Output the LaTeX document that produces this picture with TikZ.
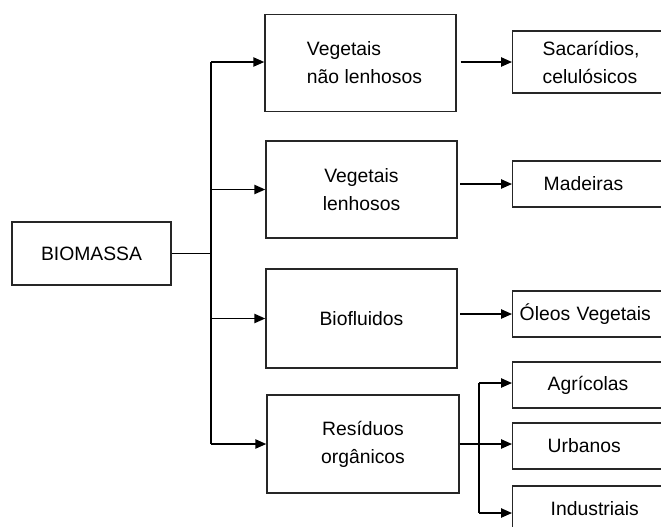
\documentclass[tikz,border=0pt]{standalone}
\usepackage{fontspec}
\setmainfont{Liberation Sans}
\usetikzlibrary{arrows.meta}
\begin{document}
\begin{tikzpicture}[x=0.75pt,y=-0.75pt,
  font=\fontsize{14.5}{21}\selectfont,
  box/.style={draw=black!85, line width=1.1pt, minimum width=143.25pt, minimum height=72.75pt, align=center, inner sep=2pt},
  rbox/.style={draw=black!85, line width=1.1pt, anchor=west, align=left, inner ysep=2pt, minimum height=34.5pt},
  conn/.style={line width=1.1pt},
  arr/.style={line width=1.1pt, -{Triangle[length=8.25pt,width=7pt]}}]
\useasboundingbox (0,0) rectangle (661,526);
\clip (0,0) rectangle (661,526);
% root
\node[draw=black!85, line width=1.1pt, minimum width=119.25pt, minimum height=47.25pt] (bio) at (91.5,253.5) {BIOMASSA};
% middle column
\node[box, align=left] (a1) at (360.5,63) {\hspace*{6pt}Vegetais\\\hspace*{6pt}não lenhosos};
\node[box] (a2) at (361.5,189.5) {Vegetais\\lenhosos};
\node[box, minimum height=74.25pt] (a3) at (361.5,318.5) {Biofluidos};
\node[box, minimum width=144pt, minimum height=73.5pt] (a4) at (363,444) {Resíduos\\orgânicos};
% right column
\node[rbox, inner xsep=22.5pt, text width=127.5pt, minimum height=46.5pt] (r1) at (512,62) {Sacarídios,\\celulósicos};
\node[rbox, inner xsep=23.25pt, text width=126pt] (r2) at (512,184) {Madeiras};
\node[rbox, inner xsep=5.25pt, text width=162pt] (r3) at (512,314) {Óleos Vegetais};
\node[rbox, inner xsep=26.25pt, text width=120pt] (r4) at (512,385) {Agrícolas};
\node[rbox, inner xsep=26.25pt, text width=120pt] (r5) at (512,446) {Urbanos};
\node[rbox, inner xsep=28.5pt, text width=115.5pt] (r6) at (512,509) {Industriais};
% trunk
\coordinate (t1) at (211,62);
\coordinate (t4) at (211,444);
\coordinate (b1) at (479,383);
\coordinate (b3) at (479,513);
\draw[conn] (bio.east) -- (bio.east -| t1);
\draw[conn] (t1) -- (t4);
\draw[arr] (t1) -- (t1 -| a1.west);
\draw[arr] (a2.west -| t1) -- (a2.west);
\draw[arr] (a3.west -| t1) -- (a3.west);
\draw[arr] (t4) -- (a4.west);
% to right column
\draw[arr, shorten <=3pt] (a1.east |- r1.west) -- (r1.west);
\draw[arr, shorten <=2pt] (a2.east |- r2.west) -- (r2.west);
\draw[arr, shorten <=2pt] (a3.east |- r3.west) -- (r3.west);
% residuos branch
\draw[arr] (a4.east) -- (a4.east -| r5.west);
\draw[conn] (b1) -- (b3);
\draw[arr] (b1) -- (b1 -| r4.west);
\draw[arr] (b3) -- (b3 -| r6.west);
\end{tikzpicture}
\end{document}
